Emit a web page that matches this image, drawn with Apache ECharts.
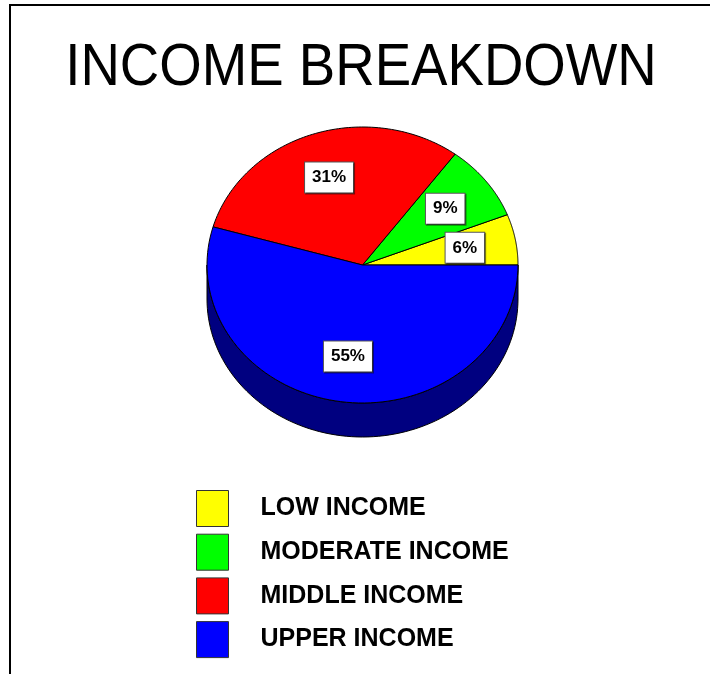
<!DOCTYPE html>
<html>
<head>
<meta charset="utf-8">
<script src="https://cdn.jsdelivr.net/npm/echarts@6/dist/echarts.min.js"></script>
<style>html,body{margin:0;padding:0;background:#fff;}#main{width:710px;height:674px;}</style>
</head>
<body>
<div id="main"></div>
<script>
// ---- data ----
const categories = ['LOW INCOME', 'MODERATE INCOME', 'MIDDLE INCOME', 'UPPER INCOME'];
const values = [6, 9, 31, 55];
const labels = ['6%', '9%', '31%', '55%'];

// ---- styles ----
const colors = ['#ffff00', '#00ff00', '#ff0000', '#0000ff'];
const sideColors = ['#808000', '#008000', '#800000', '#000080'];
const FONT = "'Liberation Sans', Arial, Helvetica, sans-serif";

// ---- layout ----
const CX = 362.5, CY = 265, RX = 155.5, RY = 138, DEPTH = 34, N = 90;

const total = values.reduce((a, b) => a + b, 0);
const starts = [];
values.reduce((acc, v, i) => { starts[i] = acc; return acc + v; }, 0);

function pt(deg, dy, f) {
  const r = deg * Math.PI / 180, k = f == null ? 1 : f;
  return [CX + k * RX * Math.cos(r), CY - k * RY * Math.sin(r) + (dy || 0)];
}
function angles(i, v) {
  const a1 = starts[i] / total * 360;
  return [a1, a1 + v / total * 360];
}

const chart = echarts.init(document.getElementById('main'), null, {renderer: 'canvas'});

const series = [];
// side (depth) of the pie
series.push({
  type: 'custom', name: '_side', coordinateSystem: 'none', z: 1, silent: true,
  data: values.map((v, i) => [v, i]),
  renderItem: function (params, api) {
    const i = api.value(1);
    const [a1, a2] = angles(i, api.value(0));
    const s = Math.max(a1, 180), e = Math.min(a2, 360);
    if (e <= s) return {type: 'group', children: []};
    const pts = [];
    for (let k = 0; k <= N; k++) pts.push(pt(s + (e - s) * k / N, 0));
    for (let k = N; k >= 0; k--) pts.push(pt(s + (e - s) * k / N, DEPTH));
    return {type: 'polygon', shape: {points: pts},
      style: {fill: sideColors[i], stroke: '#000', lineWidth: 1}};
  }
});
// top faces, one series per category (for legend)
categories.forEach(function (name, i) {
  series.push({
    type: 'custom', name: name, coordinateSystem: 'none', z: 2, silent: true,
    itemStyle: {color: colors[i]},
    data: [values[i]],
    renderItem: function (params, api) {
      const [a1, a2] = angles(i, api.value(0));
      const pts = [[CX, CY]];
      for (let k = 0; k <= N; k++) pts.push(pt(a1 + (a2 - a1) * k / N, 0));
      return {type: 'polygon', shape: {points: pts},
        style: {fill: colors[i], stroke: '#000', lineWidth: 1}};
    }
  });
});
// labels
series.push({
  type: 'custom', name: '_labels', coordinateSystem: 'none', z: 3, silent: true,
  data: values.map((v, i) => [v, i]),
  renderItem: function (params, api) {
    const i = api.value(1);
    const [a1, a2] = angles(i, api.value(0));
    const p = pt((a1 + a2) / 2, 0, 0.67);
    return {type: 'text', x: p[0], y: p[1],
      style: {text: labels[i], font: 'bold 17px ' + FONT, fill: '#000',
        align: 'center', verticalAlign: 'middle',
        backgroundColor: '#fff', borderColor: '#555', borderWidth: 1,
        padding: [7, 7, 6, 7],
        shadowColor: 'rgba(0,0,0,0.45)', shadowOffsetX: 1, shadowOffsetY: 1, shadowBlur: 0}};
  }
});

chart.setOption({
  backgroundColor: '#fff',
  animation: false,
  graphic: [
    {type: 'line', shape: {x1: 10, y1: 5, x2: 710, y2: 5}, style: {stroke: '#000', lineWidth: 2}},
    {type: 'line', shape: {x1: 10, y1: 4, x2: 10, y2: 674}, style: {stroke: '#000', lineWidth: 2}},
    {type: 'text', x: 361, y: 68, scaleX: 0.91,
      style: {text: 'INCOME BREAKDOWN', font: '60px ' + FONT, fill: '#000',
        align: 'center', verticalAlign: 'middle'}}
  ],
  legend: {
    data: categories, orient: 'vertical', left: 191, top: 485,
    itemWidth: 32, itemHeight: 36, itemGap: 6.7, icon: 'rect',
    selectedMode: false,
    itemStyle: {borderColor: '#333', borderWidth: 1},
    textStyle: {fontSize: 25, fontWeight: 'bold', color: '#000', fontFamily: FONT,
      lineHeight: 31, padding: [5, 0, 0, 27]}
  },
  series: series
});
</script>
</body>
</html>
